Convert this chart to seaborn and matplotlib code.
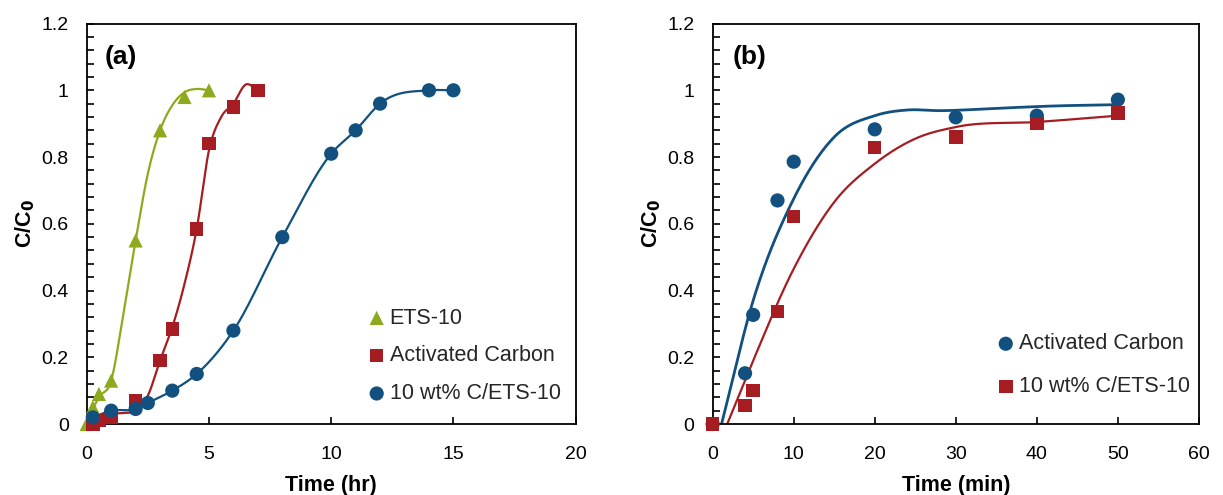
import numpy as np
import matplotlib
matplotlib.use("Agg")
import matplotlib.pyplot as plt
from matplotlib.ticker import MultipleLocator, FuncFormatter
import seaborn as sns

# ---------------- data ----------------
# Panel (a): time in hours (measured points)
a_ets_t = [0, 0.25, 0.5, 1, 2, 3, 4, 5]
a_ets_y = [0.0, 0.05, 0.09, 0.13, 0.55, 0.88, 0.98, 1.0]
a_ac_t = [0.25, 0.5, 1, 2, 3, 3.5, 4.5, 5, 6, 7]
a_ac_y = [0.0, 0.01, 0.02, 0.07, 0.19, 0.285, 0.585, 0.84, 0.95, 1.0]
a_c_t = [0.25, 1, 2, 2.5, 3.5, 4.5, 6, 8, 10, 11, 12, 14, 15]
a_c_y = [0.02, 0.04, 0.045, 0.063, 0.10, 0.15, 0.28, 0.56, 0.81, 0.88, 0.96, 1.0, 1.0]

# Panel (a) trend curves (nodes)
fit_a_ets_t = [0, 0.25, 0.5, 1, 1.5, 2, 2.5, 3, 3.5, 4, 4.5, 5]
fit_a_ets_y = [0.0, 0.045, 0.08, 0.13, 0.33, 0.55, 0.75, 0.88, 0.955, 0.994, 1.004, 1.0]
fit_a_ac_t = [0.25, 1, 1.5, 2, 2.5, 3, 3.5, 4, 4.5, 5, 5.5, 6, 6.5, 7]
fit_a_ac_y = [0.0, 0.03, 0.033, 0.04, 0.085, 0.19, 0.29, 0.42, 0.585, 0.82, 0.92, 0.96, 1.017, 1.0]

# Panel (b): time in minutes (measured points)
b_t = [0, 4, 5, 8, 10, 20, 30, 40, 50]
b_ac_y = [0.0, 0.152, 0.327, 0.67, 0.786, 0.883, 0.919, 0.924, 0.972]
b_c_y = [0.0, 0.056, 0.10, 0.337, 0.622, 0.829, 0.86, 0.90, 0.932]

# Panel (b) model-fit curves (nodes)
fit_b_ac_t = [1.1, 5, 10, 15, 20, 24, 28, 35, 42, 50]
fit_b_ac_y = [0.0, 0.37, 0.675, 0.86, 0.924, 0.941, 0.939, 0.946, 0.953, 0.957]
fit_b_c_t = [1.8, 5, 10, 15, 20, 25, 30, 40, 50]
fit_b_c_y = [0.0, 0.19, 0.465, 0.665, 0.78, 0.855, 0.89, 0.905, 0.924]

labels_a = ["ETS-10", "Activated Carbon", "10 wt% C/ETS-10"]
labels_b = ["Activated Carbon", "10 wt% C/ETS-10"]

GREEN = "#8DAA1E"
RED = "#A51D22"
BLUE = "#11507F"


def smooth(xs, ys, n=40):
    """Piecewise cubic Hermite curve through the nodes (smoothed line)."""
    x = np.asarray(xs, float)
    y = np.asarray(ys, float)
    h = np.diff(x)
    d = np.diff(y) / h
    m = np.empty_like(y)
    m[0] = d[0]
    m[-1] = d[-1]
    for i in range(1, len(x) - 1):
        m[i] = (d[i - 1] * h[i] + d[i] * h[i - 1]) / (h[i - 1] + h[i])
    ox, oy = [x[0]], [y[0]]
    for i in range(len(x) - 1):
        t = np.linspace(0, 1, n)[1:]
        h00 = 2 * t ** 3 - 3 * t ** 2 + 1
        h10 = t ** 3 - 2 * t ** 2 + t
        h01 = -2 * t ** 3 + 3 * t ** 2
        h11 = t ** 3 - t ** 2
        ox.extend(x[i] + t * h[i])
        oy.extend(h00 * y[i] + h10 * h[i] * m[i] + h01 * y[i + 1] + h11 * h[i] * m[i + 1])
    return np.array(ox), np.array(oy)


sns.set_theme(style="white")
plt.rcParams["font.family"] = ["Liberation Sans", "DejaVu Sans"]

fig = plt.figure(figsize=(12.23, 4.95), dpi=100)
axA = fig.add_axes([0.0709, 0.1434, 0.3998, 0.809])
axB = fig.add_axes([0.5827, 0.1434, 0.3976, 0.809])

LW = 1.6
MS = 95


def gfmt(v, pos):
    return "%g" % round(v, 6)


def style(ax, xmax, xstep, xlabel):
    ax.set_xlim(0, xmax)
    ax.set_ylim(0, 1.2)
    ax.xaxis.set_major_locator(MultipleLocator(xstep))
    ax.yaxis.set_major_locator(MultipleLocator(0.2))
    ax.yaxis.set_minor_locator(MultipleLocator(0.04))
    ax.xaxis.set_major_formatter(FuncFormatter(gfmt))
    ax.yaxis.set_major_formatter(FuncFormatter(gfmt))
    ax.tick_params(axis="both", which="both", direction="in", length=5, width=1.2,
                   color="black", labelsize=14, labelcolor="black")
    ax.tick_params(axis="x", pad=15.5, bottom=True, top=False)
    ax.tick_params(axis="y", which="both", pad=13, left=True, right=False)
    for s in ax.spines.values():
        s.set_color("black")
        s.set_linewidth(1.3)
    ax.set_xlabel(xlabel, fontsize=15.5, fontweight="bold", color="black", labelpad=9)
    ax.set_ylabel("C/C$_\\mathbf{0}$", fontsize=15.5, fontweight="bold", color="black", labelpad=3)
    ax.grid(False)


# ---------- panel (a) ----------
for t, y, c in [(fit_a_ets_t, fit_a_ets_y, GREEN), (fit_a_ac_t, fit_a_ac_y, RED), (a_c_t, a_c_y, BLUE)]:
    sx, sy = smooth(t, y)
    sns.lineplot(x=sx, y=sy, ax=axA, color=c, linewidth=LW, sort=False, estimator=None)
sns.scatterplot(x=a_ets_t, y=a_ets_y, ax=axA, marker="^", s=MS * 1.1, color=GREEN,
                edgecolor="none", label=labels_a[0], clip_on=False, zorder=3)
sns.scatterplot(x=a_ac_t, y=a_ac_y, ax=axA, marker="s", s=MS, color=RED,
                edgecolor="none", label=labels_a[1], clip_on=False, zorder=3)
sns.scatterplot(x=a_c_t, y=a_c_y, ax=axA, marker="o", s=MS * 1.1, color=BLUE,
                edgecolor="none", label=labels_a[2], clip_on=False, zorder=3)
style(axA, 20, 5, "Time (hr)")
axA.text(0.037, 0.917, "(a)", transform=axA.transAxes, fontsize=19, fontweight="bold",
         va="center", ha="left", color="black")
axA.legend(loc="lower right", bbox_to_anchor=(1.0, 0.012), frameon=False, fontsize=15.5,
           labelspacing=0.78, handletextpad=0.1, handlelength=1.0, borderaxespad=0.3)

# ---------- panel (b) ----------
for t, y, c, w in [(fit_b_ac_t, fit_b_ac_y, BLUE, LW + 0.4), (fit_b_c_t, fit_b_c_y, RED, LW)]:
    sx, sy = smooth(t, y)
    sns.lineplot(x=sx, y=sy, ax=axB, color=c, linewidth=w, sort=False, estimator=None)
sns.scatterplot(x=b_t, y=b_ac_y, ax=axB, marker="o", s=MS * 1.1, color=BLUE,
                edgecolor="none", label=labels_b[0], clip_on=False, zorder=3)
sns.scatterplot(x=b_t, y=b_c_y, ax=axB, marker="s", s=MS, color=RED,
                edgecolor="none", label=labels_b[1], clip_on=False, zorder=3)
style(axB, 60, 10, "Time (min)")
axB.text(0.042, 0.917, "(b)", transform=axB.transAxes, fontsize=19, fontweight="bold",
         va="center", ha="left", color="black")
axB.legend(loc="lower right", bbox_to_anchor=(1.012, 0.03), frameon=False, fontsize=15.5,
           labelspacing=1.0, handletextpad=0.1, handlelength=1.0, borderaxespad=0.3)

fig.savefig("out.png", dpi=100)
